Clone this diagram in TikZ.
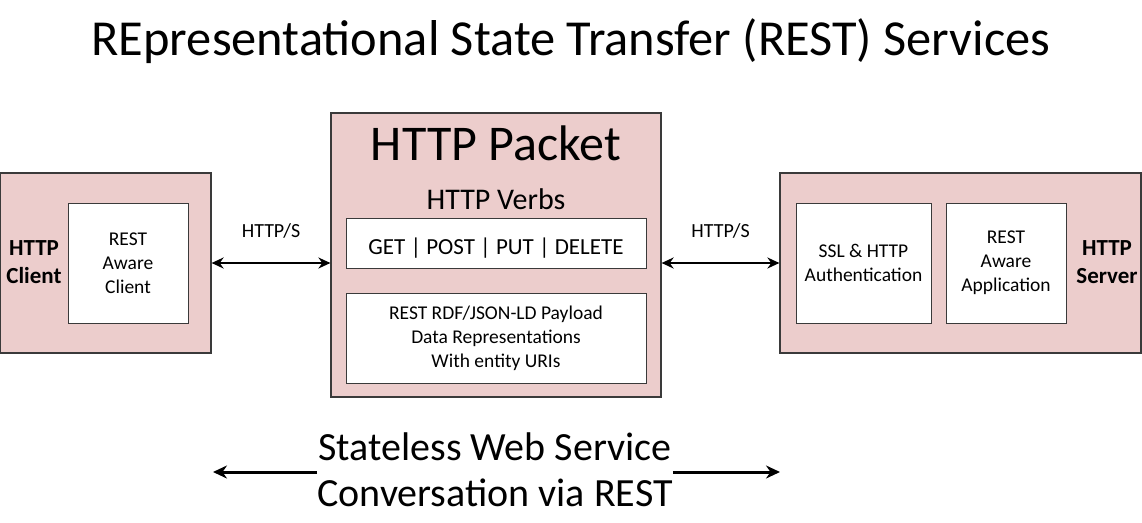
\documentclass[tikz,border=0pt]{standalone}
\usepackage{fontspec}
\setmainfont{Carlito}
\usetikzlibrary{arrows.meta}
\definecolor{boxpink}{HTML}{ECCDCC}
\definecolor{boxline}{HTML}{3A3A3A}

\tikzset{
  outerbox/.style={draw=boxline, fill=boxpink, line width=1.2pt, inner sep=0pt},
  innerbox/.style={draw=boxline, fill=white, line width=1pt, inner sep=0pt, align=center,
    font=\fontsize{19.5}{24}\selectfont},
  sidelabel/.style={align=center, font=\fontsize{23}{28}\selectfont\bfseries},
  link/.style={line width=2pt, {Stealth[length=12pt,width=11pt]}-{Stealth[length=12pt,width=11pt]}},
  oneway/.style={line width=3pt, -{Stealth[length=14pt,width=13pt]}},
}

\begin{document}
\begin{tikzpicture}[x=1pt,y=-1pt]
  \useasboundingbox (0,0) rectangle (1142,522);

  \node (title) at (571,41) {\fontsize{50.4}{58}\selectfont REpresentational State Transfer (REST) Services};

  % client side
  \node[outerbox, minimum width=211pt, minimum height=180pt] (client) at (105.5,263) {};
  \node[innerbox, minimum width=120pt, minimum height=120pt] (clientapp) at (128,263) {REST\\Aware\\Client};
  \node[sidelabel] (clientlbl) at (34,262) {HTTP\\Client};

  % packet in the middle
  \node[outerbox, minimum width=330pt, minimum height=284pt] (packet) at (496,255) {};
  \node (packetlbl) at (496,143) {\fontsize{50}{58}\selectfont HTTP Packet};
  \node (verbslbl) at (496,199) {\fontsize{30}{36}\selectfont HTTP Verbs};
  \node[innerbox, minimum width=300pt, minimum height=50pt, text height=27pt, text depth=4pt,
    font=\fontsize{23}{28}\selectfont] (verbs) at (496,243) {GET | POST | PUT | DELETE};
  \node[innerbox, minimum width=300pt, minimum height=90pt] (payload) at (496,338) {REST RDF/JSON-LD Payload\\Data Representations\\With entity URIs};

  % server side
  \node[outerbox, minimum width=361pt, minimum height=180pt] (server) at (960.5,263) {};
  \node[innerbox, minimum width=135pt, minimum height=120pt] (auth) at (863.5,263) {SSL \& HTTP\\Authentication};
  \node[innerbox, minimum width=120pt, minimum height=120pt] (serverapp) at (1006,263) {REST\\Aware\\Application};
  \node[sidelabel] (serverlbl) at (1107,262) {HTTP\\Server};

  % links
  \draw[link] (client.east) -- (client.east -| packet.west)
    node[midway, above=20pt, font=\fontsize{20}{24}\selectfont] {HTTP/S};
  \draw[link] (packet.east |- server.west) -- (server.west)
    node[midway, above=20pt, font=\fontsize{20}{24}\selectfont] {HTTP/S};

  % conversation
  \node[align=center, inner sep=0pt, font=\fontsize{40}{46}\selectfont] (conv) at (495,470) {Stateless Web Service\\Conversation via REST};
  \coordinate (convl) at (213,472);
  \coordinate (convr) at (780,472);
  \draw[oneway] (conv.west |- convl) -- (convl);
  \draw[oneway] (conv.east |- convr) -- (convr);
\end{tikzpicture}
\end{document}
